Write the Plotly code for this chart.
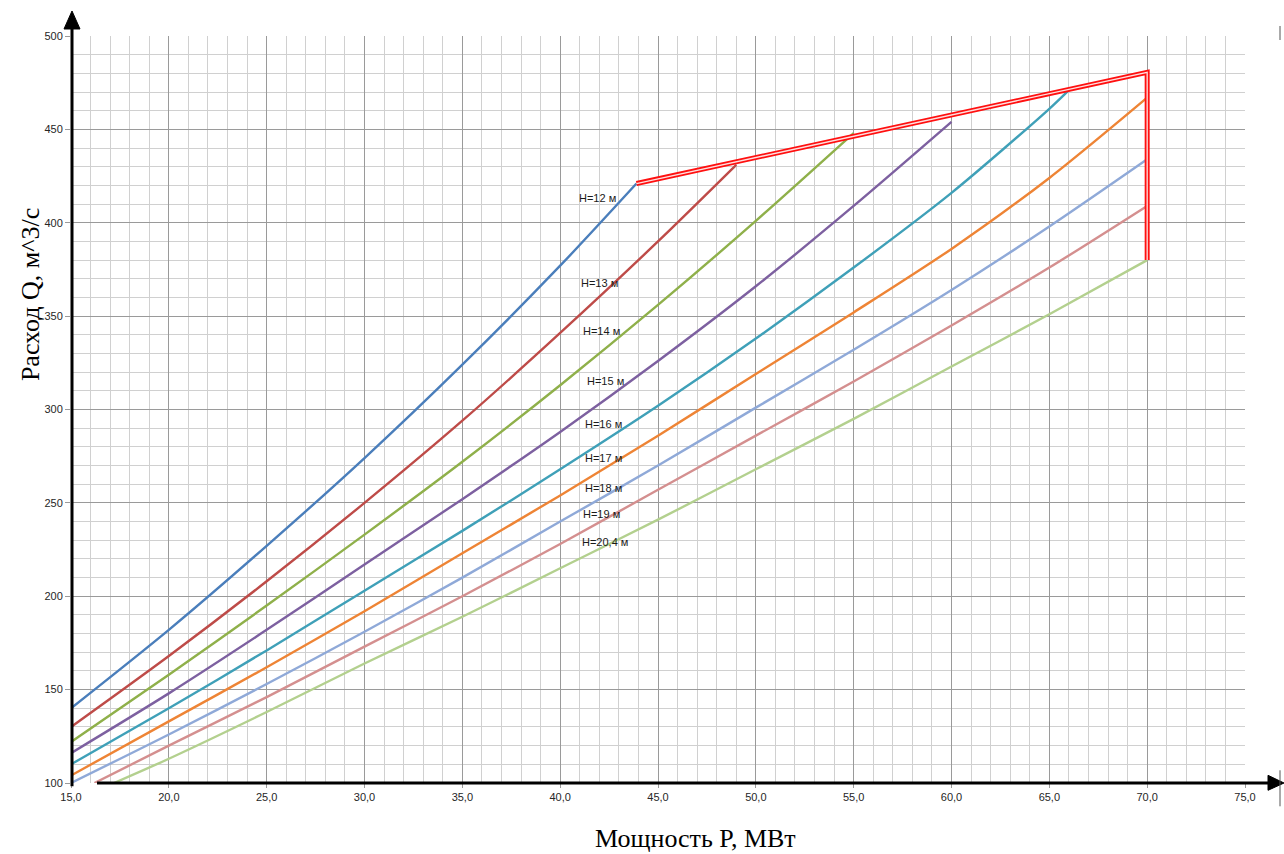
import plotly.graph_objects as go

# ---------------- data ----------------
x_ticks = [15, 20, 25, 30, 35, 40, 45, 50, 55, 60, 65, 70, 75]
x_tick_labels = ["15,0", "20,0", "25,0", "30,0", "35,0", "40,0", "45,0",
                 "50,0", "55,0", "60,0", "65,0", "70,0", "75,0"]
y_ticks = [100, 150, 200, 250, 300, 350, 400, 450, 500]
y_tick_labels = ["100", "150", "200", "250", "300", "350", "400", "450", "500"]

P_12 = [15, 20, 25, 30, 35, 40, 43.9]
Q_12 = [140, 182, 227, 274, 324, 377, 421]

P_13 = [15, 20, 25, 30, 35, 40, 45, 49.0]
Q_13 = [130, 168, 208, 250, 294, 341, 390, 431]

P_14 = [15, 20, 25, 30, 35, 40, 45, 50, 55]
Q_14 = [122, 158, 195, 233, 272, 313, 356, 401, 448]

P_15 = [15, 20, 25, 30, 35, 40, 45, 50, 55, 60]
Q_15 = [116, 148, 182, 217, 252, 288, 326, 366, 409, 454]

P_16 = [15, 20, 25, 30, 35, 40, 45, 50, 55, 60, 65, 66]
Q_16 = [110, 140, 171, 203, 235, 268, 302, 338, 376, 416, 461, 471]

P_17 = [15, 20, 25, 30, 35, 40, 45, 50, 55, 60, 65, 70]
Q_17 = [104, 133, 162, 192, 223, 254, 286, 319, 352, 386, 424, 467]

P_18 = [15, 20, 25, 30, 35, 40, 45, 50, 55, 60, 65, 70]
Q_18 = [100, 126, 153, 181, 210, 240, 270, 301, 332, 364, 398, 434]

P_19 = [16.2, 20, 25, 30, 35, 40, 45, 50, 55, 60, 65, 70]
Q_19 = [100, 120, 146, 173, 200, 228, 257, 286, 315, 345, 376, 409]

P_204 = [17.2, 20, 25, 30, 35, 40, 45, 50, 55, 60, 65, 70]
Q_204 = [100, 113, 138, 164, 189, 215, 241, 268, 295, 323, 351, 380]

# operating-zone envelope (red double line)
P_env = [43.9, 70, 70]
Q_env = [421, 480.5, 380]

series_names = ["H=12 м", "H=13 м", "H=14 м", "H=15 м", "H=16 м",
                "H=17 м", "H=18 м", "H=19 м", "H=20,4 м"]
series_P = [P_12, P_13, P_14, P_15, P_16, P_17, P_18, P_19, P_204]
series_Q = [Q_12, Q_13, Q_14, Q_15, Q_16, Q_17, Q_18, Q_19, Q_204]
series_colors = ["#4A7EBB", "#BE4B48", "#8FB04A", "#7D60A0", "#3FA0B8",
                 "#EE8435", "#8FA9D8", "#D48F8F", "#B3D08E"]

# caption positions (P, Q)
label_P = [41.9, 42.0, 42.1, 42.3, 42.2, 42.2, 42.2, 42.1, 42.3]
label_Q = [413, 368, 342, 315, 292, 274, 258, 244, 229]

# ---------------- figure ----------------
fig = go.Figure()

for name, px_, qy, col in zip(series_names, series_P, series_Q, series_colors):
    fig.add_trace(go.Scatter(x=px_, y=qy, mode="lines", name=name,
                             line=dict(color=col, width=2.4, shape="spline", smoothing=0.8),
                             hoverinfo="x+y+name"))

# red double line: thick red with a thin light core
fig.add_trace(go.Scatter(x=P_env, y=Q_env, mode="lines",
                         line=dict(color="#FF1010", width=5), hoverinfo="skip"))
fig.add_trace(go.Scatter(x=P_env, y=Q_env, mode="lines",
                         line=dict(color="#FFE0E0", width=1.3), hoverinfo="skip"))

for name, lx, ly in zip(series_names, label_P, label_Q):
    fig.add_annotation(x=lx, y=ly, text=name, showarrow=False,
                       font=dict(family="Liberation Sans", size=11, color="#1a1a1a"))


def px2x(p):
    return (p - 71) / 1174


def py2y(p):
    return (782.7 - p) / 746.7


# axis titles (document text)
fig.add_annotation(xref="paper", yref="paper", x=px2x(30), y=py2y(295),
                   xanchor="center", yanchor="middle",
                   text="Расход Q, м^3/с", textangle=-90, showarrow=False,
                   font=dict(family="Liberation Serif", size=26, color="black"))
fig.add_annotation(xref="paper", yref="paper", x=px2x(695), y=py2y(838),
                   xanchor="center", yanchor="middle",
                   text="Мощность P, МВт", showarrow=False,
                   font=dict(family="Liberation Serif", size=26, color="black"))

shapes = [
    # y axis arrow line
    dict(type="line", xref="paper", yref="paper", x0=px2x(72), x1=px2x(72),
         y0=py2y(786), y1=py2y(26), line=dict(color="black", width=3)),
    # y arrow head
    dict(type="path", xref="paper", yref="paper",
         path=f"M {px2x(64)} {py2y(29)} L {px2x(80)} {py2y(29)} L {px2x(72)} {py2y(11)} Z",
         fillcolor="black", line=dict(color="black", width=1)),
    # x axis arrow line
    dict(type="line", xref="paper", yref="paper", x0=px2x(97), x1=px2x(1272),
         y0=py2y(782.7), y1=py2y(782.7), line=dict(color="black", width=3)),
    # x arrow head
    dict(type="path", xref="paper", yref="paper",
         path=f"M {px2x(1268)} {py2y(775)} L {px2x(1268)} {py2y(790)} L {px2x(1284)} {py2y(782.7)} Z",
         fillcolor="black", line=dict(color="black", width=1)),
    # small marks at the right edge (scan)
    dict(type="line", xref="paper", yref="paper", x0=px2x(1280), x1=px2x(1280),
         y0=py2y(770), y1=py2y(806), line=dict(color="#555555", width=1)),
    dict(type="line", xref="paper", yref="paper", x0=px2x(1280), x1=px2x(1280),
         y0=py2y(26), y1=py2y(40), line=dict(color="#555555", width=1)),
]

tickfont = dict(family="Liberation Sans", size=11, color="#262626")
fig.update_layout(
    width=1284, height=854,
    margin=dict(l=71, r=39, t=36, b=71, pad=0),
    paper_bgcolor="white", plot_bgcolor="white",
    showlegend=False,
    shapes=shapes,
    xaxis=dict(range=[15, 75], tickvals=x_ticks, ticktext=x_tick_labels,
               showgrid=True, gridcolor="#9A9A9A", gridwidth=1,
               minor=dict(tick0=15, dtick=1, showgrid=True, gridcolor="#D0D0D0", gridwidth=1),
               ticks="outside", ticklen=4, tickcolor="#9A9A9A",
               zeroline=False, showline=False, tickfont=tickfont),
    yaxis=dict(range=[100, 500], tickvals=y_ticks, ticktext=y_tick_labels,
               showgrid=True, gridcolor="#9A9A9A", gridwidth=1,
               minor=dict(tick0=100, dtick=10, showgrid=True, gridcolor="#D0D0D0", gridwidth=1),
               ticks="outside", ticklen=5, tickcolor="#9A9A9A",
               zeroline=False, showline=False, tickfont=tickfont),
)

fig.write_html("out.html", config={"displayModeBar": False},
               post_script="document.body.style.margin='0';")
